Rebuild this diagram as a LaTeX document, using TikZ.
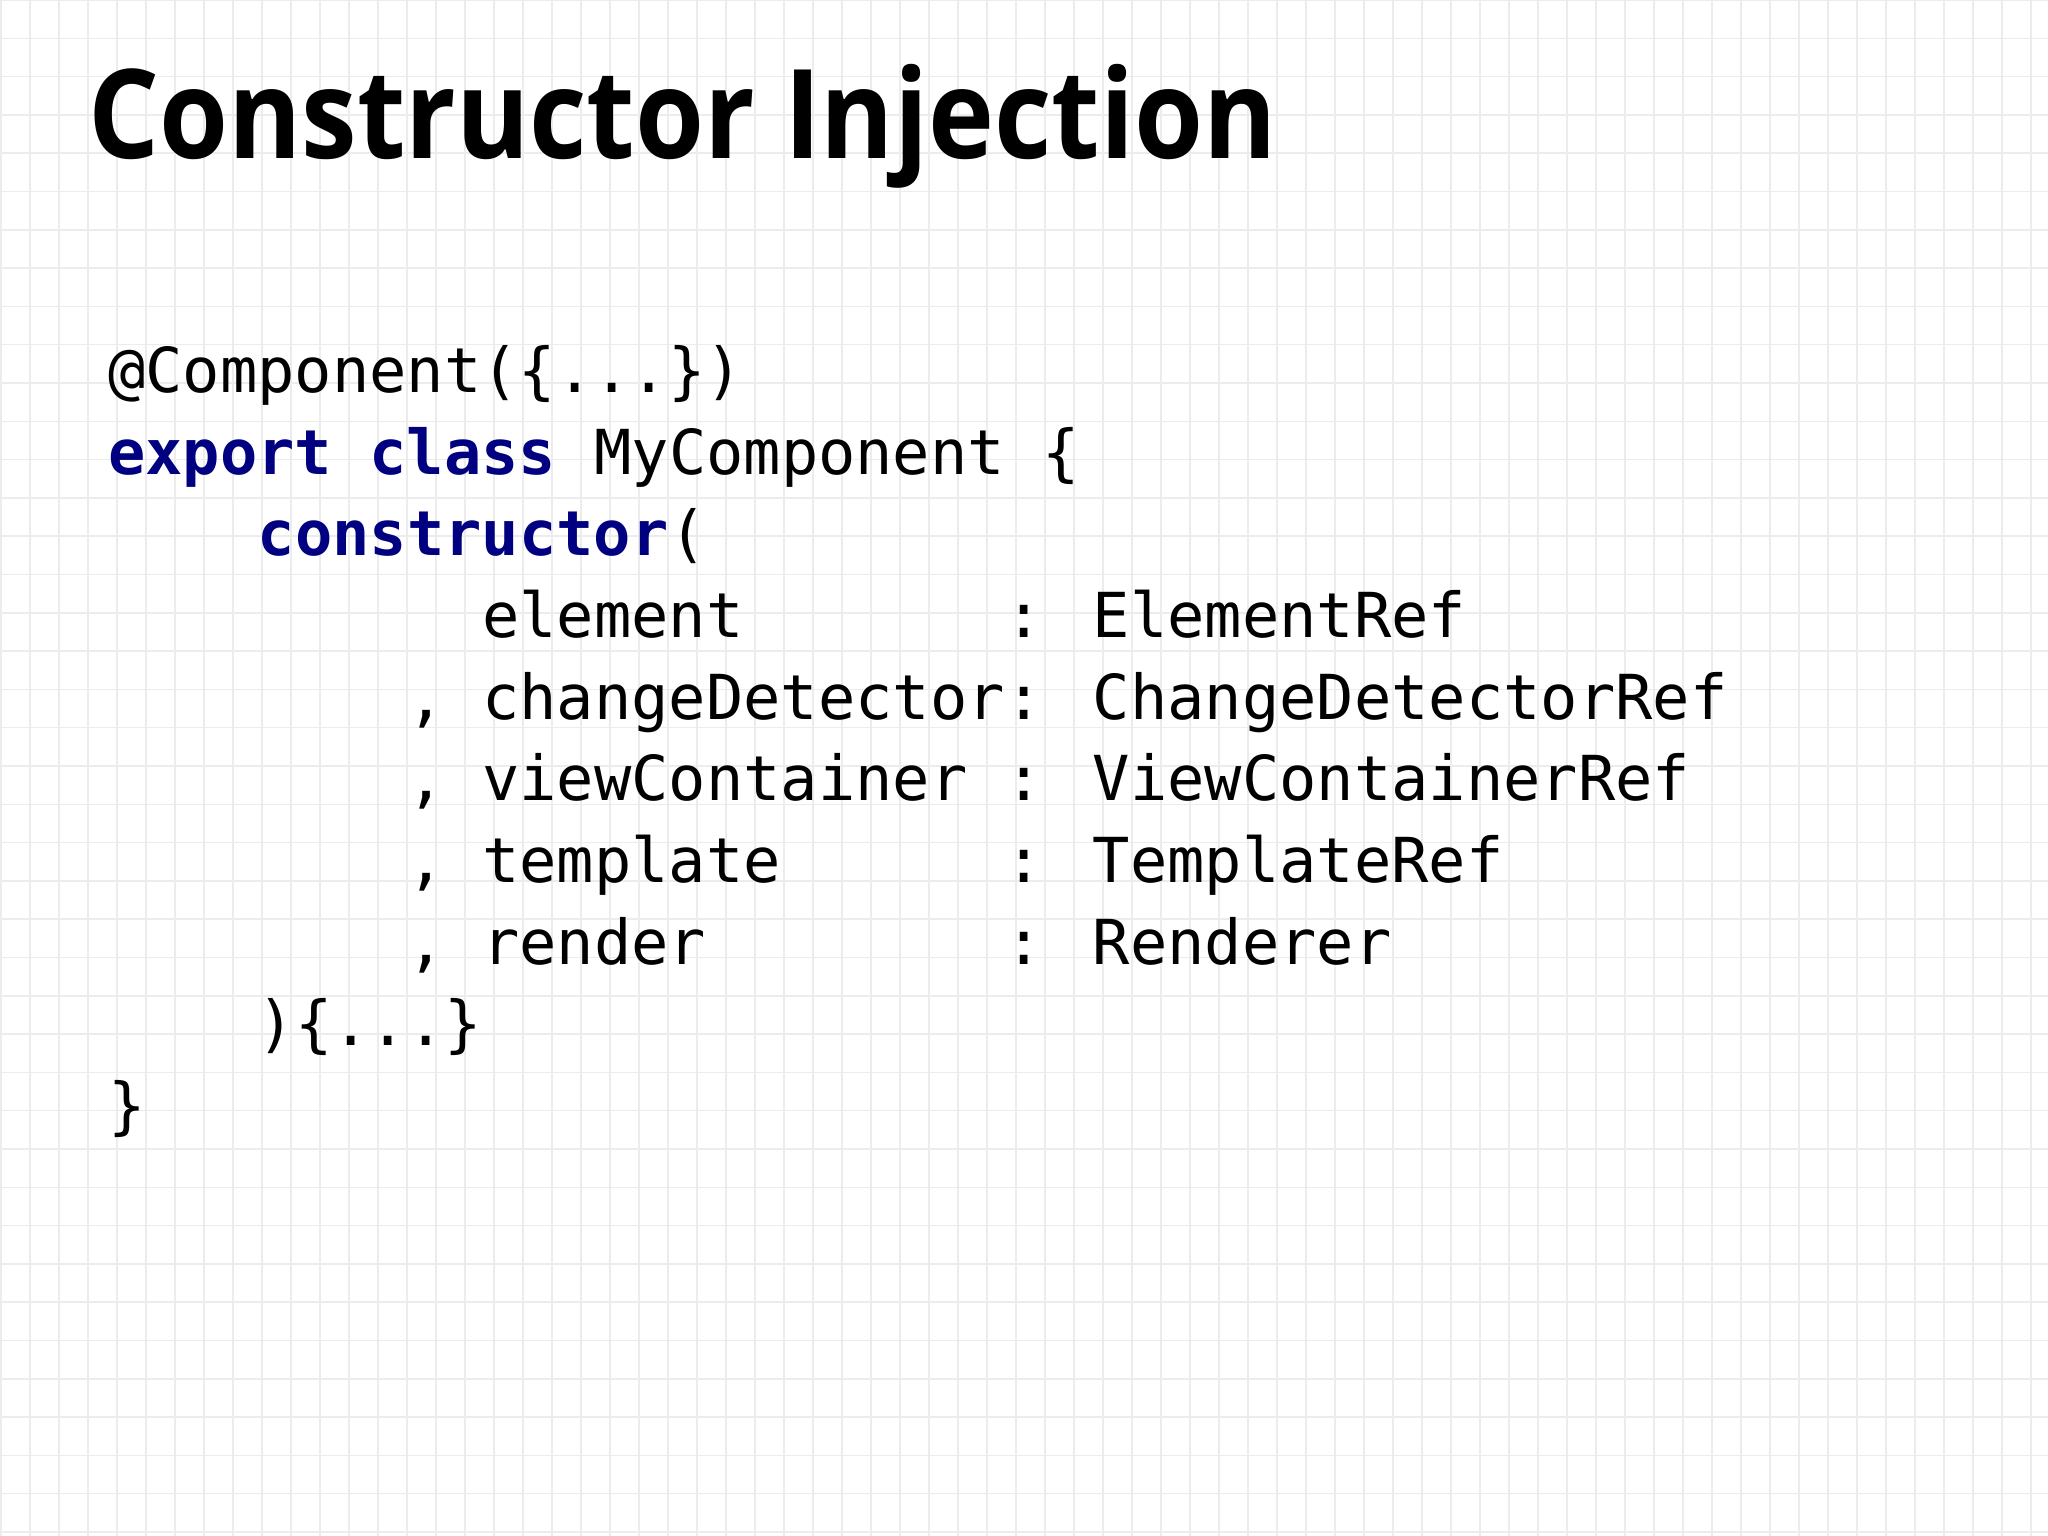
\documentclass[tikz,border=0pt]{standalone}
\usepackage{fontspec}
\setmainfont{Open Sans}
\newfontfamily\codefont{DejaVu Sans Mono}
\definecolor{kw}{RGB}{0,0,128}
\definecolor{gridc}{RGB}{236,236,236}
\begin{document}
\begin{tikzpicture}[x=1pt,y=-1pt,
  code/.style={anchor=base west,inner sep=0pt,font=\codefont\fontsize{62}{62}\selectfont},
  kwd/.style={code,text=kw,font=\codefont\bfseries\fontsize{62}{62}\selectfont}]
\fill[white] (0,0) rectangle (2048,1536);
\useasboundingbox (0,0) rectangle (2048,1536);
\foreach \i in {0,...,71} \draw[gridc,line width=1.5] (\i*29+1,0) -- (\i*29+1,1536);
\foreach \j in {0,...,40} \draw[gridc,line width=1.5] (0,\j*38.3) -- (2048,\j*38.3);
\node[anchor=base west,inner sep=0pt,font=\bfseries\fontsize{124}{124}\selectfont] (title) at (88,159) {\scalebox{0.9}[1]{Constructor Injection}};
\def\cw{37.4}
\def\lx{108}
\node[code] (l1) at (\lx,392) {@Component(\{...\})};
\node[kwd] (l2a) at (\lx,474) {export class};
\node[code] (l2b) at (\lx+13*\cw,474) {MyComponent \{};
\node[kwd] (l3a) at (\lx+4*\cw,555) {constructor};
\node[code] (l3b) at (\lx+15*\cw,555) {(};
\node[code] (n1) at (\lx+10*\cw,637) {element};
\node[code] (c1) at (\lx+24*\cw,637) {: ElementRef};
\node[code] (k2) at (\lx+8*\cw,719) {,};
\node[code] (n2) at (\lx+10*\cw,719) {changeDetector};
\node[code] (c2) at (\lx+24*\cw,719) {: ChangeDetectorRef};
\node[code] (k3) at (\lx+8*\cw,800) {,};
\node[code] (n3) at (\lx+10*\cw,800) {viewContainer};
\node[code] (c3) at (\lx+24*\cw,800) {: ViewContainerRef};
\node[code] (k4) at (\lx+8*\cw,882) {,};
\node[code] (n4) at (\lx+10*\cw,882) {template};
\node[code] (c4) at (\lx+24*\cw,882) {: TemplateRef};
\node[code] (k5) at (\lx+8*\cw,964) {,};
\node[code] (n5) at (\lx+10*\cw,964) {render};
\node[code] (c5) at (\lx+24*\cw,964) {: Renderer};
\node[code] (l9) at (\lx+4*\cw,1045) {)\{...\}};
\node[code] (l10) at (\lx,1127) {\}};
\end{tikzpicture}
\end{document}
